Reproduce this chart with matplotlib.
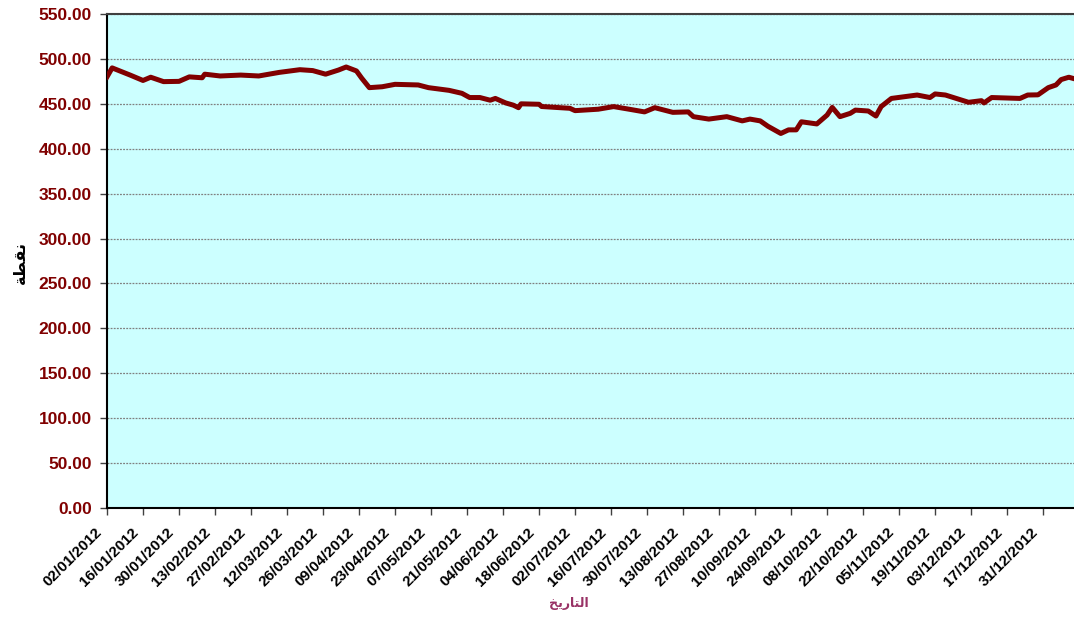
import matplotlib
matplotlib.use("Agg")
import matplotlib.pyplot as plt
import matplotlib.dates as mdates
import matplotlib.transforms as mtransforms
import numpy as np
import pandas as pd

# index values
dates = ["2012-01-02", "2012-01-04", "2012-01-11", "2012-01-16", "2012-01-19", "2012-01-24",
         "2012-01-30", "2012-02-03", "2012-02-08", "2012-02-09", "2012-02-15", "2012-02-23",
         "2012-03-01", "2012-03-09", "2012-03-17", "2012-03-22", "2012-03-27", "2012-04-01",
         "2012-04-04", "2012-04-08", "2012-04-10", "2012-04-13", "2012-04-18", "2012-04-23",
         "2012-05-02", "2012-05-06", "2012-05-14", "2012-05-19", "2012-05-22", "2012-05-26",
         "2012-05-30", "2012-06-01", "2012-06-05", "2012-06-08", "2012-06-10", "2012-06-11",
         "2012-06-18", "2012-06-19", "2012-06-30", "2012-07-02", "2012-07-11", "2012-07-17",
         "2012-07-23", "2012-07-29", "2012-08-02", "2012-08-09", "2012-08-15", "2012-08-17",
         "2012-08-23", "2012-08-30", "2012-09-05", "2012-09-08", "2012-09-12", "2012-09-15",
         "2012-09-20", "2012-09-23", "2012-09-26", "2012-09-28", "2012-10-04", "2012-10-08",
         "2012-10-10", "2012-10-13", "2012-10-17", "2012-10-19", "2012-10-24", "2012-10-27",
         "2012-10-29", "2012-11-02", "2012-11-12", "2012-11-17", "2012-11-19", "2012-11-23",
         "2012-12-02", "2012-12-07", "2012-12-08", "2012-12-11", "2012-12-22", "2012-12-25",
         "2012-12-29", "2013-01-02", "2013-01-05", "2013-01-07", "2013-01-10", "2013-01-12"]
values = [480, 490, 482, 476, 479.6, 474.7,
          475, 480, 479, 483, 481, 482,
          481, 485, 488, 487, 483, 487.6,
          491, 486.6, 478.7, 468, 469, 471.7,
          471, 468, 465, 461.7, 457, 457,
          454, 456, 451, 448.5, 445.7, 450,
          449.5, 447, 445, 442.4, 444, 446.9,
          444, 441, 445.7, 440.5, 441, 435.7,
          433, 435.7, 431, 433, 431, 425,
          417, 421, 421, 430, 427.6, 437.5,
          446, 435.7, 439.4, 443, 442, 436.4,
          446.9, 456, 459.8, 457, 461, 459.8,
          451.7, 453.5, 451, 457, 456, 459.8,
          460, 468, 471, 477, 479.6, 478]

yticks = np.arange(0, 551, 50)
x_start = "2012-01-02"
x_end = "2013-01-12"
tick_start = "2012-01-02"
tick_end = "2012-12-31"

# Arabic titles in presentation forms (matplotlib does no shaping)
ylabel_txt = "\uFE94\uFEC4\uFED8\uFEE7"                       # نقطة
xlabel_txt = "\uFEA6\uFEF3\uFEAD\uFE8E\uFE98\uFEDF\uFE8D"     # التاريخ

plt.rcParams['font.family'] = ['Liberation Sans', 'DejaVu Sans']

fig = plt.figure(figsize=(10.74, 6.19), dpi=100)
ax = fig.add_axes([107/1074, 1 - 508/619, 1 - 107/1074, (508 - 14)/619])
ax.set_facecolor("#CCFFFF")

x = pd.to_datetime(dates)
ax.plot(x, values, color="#800000", lw=3.6, solid_joinstyle="round", zorder=3)

ax.set_ylim(0, 550)
ax.set_yticks(yticks)
ax.set_yticklabels([f"{v:.2f}" for v in yticks], color="#800000",
                   fontsize=12.5, fontweight="bold")
ax.yaxis.grid(True, color="#808080", lw=0.9, ls=(0, (1.5, 1)))
ax.set_axisbelow(True)

xt = pd.date_range(tick_start, tick_end, freq="14D")
ax.set_xlim(pd.Timestamp(x_start), pd.Timestamp(x_end))
ax.set_xticks(xt)
ax.xaxis.set_major_formatter(mdates.DateFormatter("%d/%m/%Y"))

ax.tick_params(axis="both", direction="out", length=5, width=1, color="#404040")
ax.tick_params(axis="y", pad=6)
ax.tick_params(axis="x", pad=0)

offset = mtransforms.ScaledTranslation(-7/100, -15/100, fig.dpi_scale_trans)
for lab in ax.get_xticklabels():
    lab.set_rotation(45)
    lab.set_ha("right")
    lab.set_va("center")
    lab.set_rotation_mode("anchor")
    lab.set_fontsize(11)
    lab.set_fontweight("bold")
    lab.set_transform(lab.get_transform() + offset)

for s in ["left", "bottom"]:
    ax.spines[s].set_color("black")
    ax.spines[s].set_linewidth(1.5)
ax.spines["top"].set_color("#404040")
ax.spines["top"].set_linewidth(1.5)
ax.spines["right"].set_visible(False)

fig.text(20/1074, 1 - 263/619, ylabel_txt, rotation=90, ha="center", va="center",
         fontsize=11.5, fontweight="bold", family=["DejaVu Sans"])
fig.text(569/1074, 1 - 603/619, xlabel_txt, ha="center", va="center",
         fontsize=9, fontweight="bold", color="#993366", family=["DejaVu Sans"])

fig.savefig("out.png", dpi=100)
